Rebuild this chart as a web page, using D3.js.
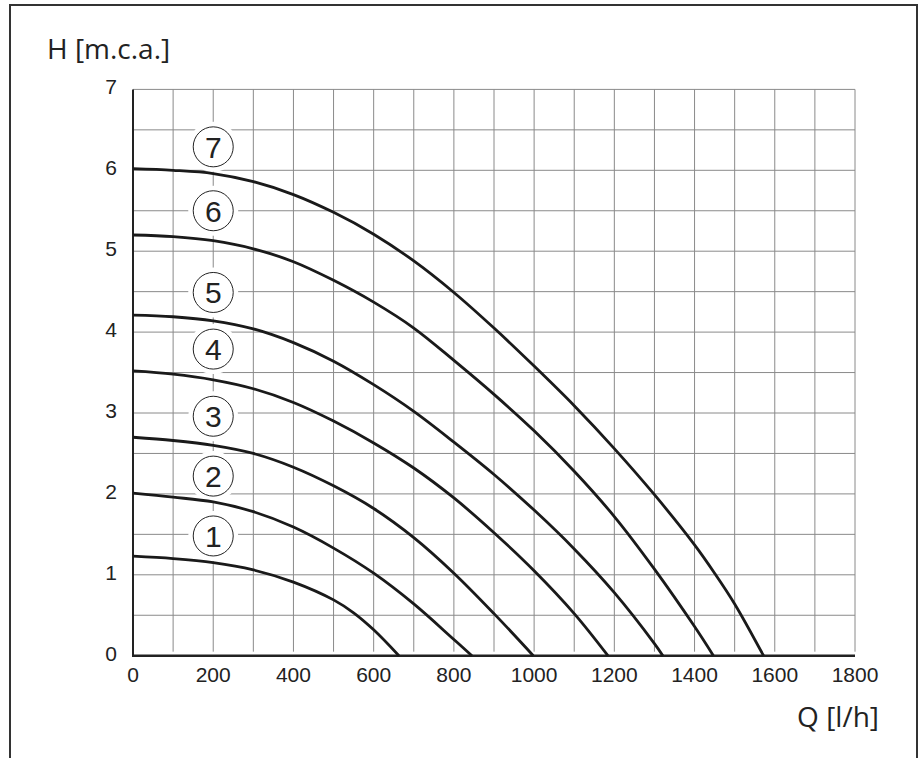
<!DOCTYPE html>
<html>
<head>
<meta charset="utf-8">
<script src="https://cdn.jsdelivr.net/npm/d3@7"></script>
<style>
  body { margin: 0; background: #fff; }
  svg { display: block; }
  .tick-label { font-family: "Liberation Sans", Arial, sans-serif; font-size: 21px; fill: #222; }
  .axis-title { font-family: "Open Sans", sans-serif; font-size: 28px; fill: #222; }
  .speed-label { font-family: "Liberation Sans", Arial, sans-serif; font-size: 30px; fill: #222; }
</style>
</head>
<body>
<svg id="chart"></svg>
<script>
// Pump curves, head H [m.c.a.] against flow Q [l/h], one per speed setting
const speed1 = [[0,1.23],[100,1.2],[200,1.15],[300,1.06],[400,0.91],[500,0.69],[550,0.53],[600,0.32],[663,0]];
const speed2 = [[0,2.01],[100,1.96],[200,1.9],[300,1.78],[400,1.59],[500,1.33],[600,1.02],[700,0.64],[800,0.2],[845,0]];
const speed3 = [[0,2.7],[100,2.66],[200,2.6],[300,2.5],[400,2.33],[500,2.1],[600,1.82],[700,1.46],[800,1.02],[900,0.52],[998,0]];
const speed4 = [[0,3.52],[100,3.48],[200,3.41],[300,3.3],[400,3.13],[500,2.9],[600,2.63],[700,2.32],[800,1.95],[900,1.52],[1000,1.05],[1100,0.52],[1184,0]];
const speed5 = [[0,4.21],[100,4.19],[200,4.14],[300,4.04],[400,3.87],[500,3.64],[600,3.35],[700,3.02],[800,2.64],[900,2.24],[1000,1.8],[1100,1.32],[1200,0.78],[1300,0.15],[1321,0]];
const speed6 = [[0,5.2],[100,5.18],[200,5.13],[300,5.03],[400,4.87],[500,4.64],[600,4.37],[700,4.05],[800,3.65],[900,3.23],[1000,2.78],[1100,2.28],[1200,1.72],[1300,1.07],[1400,0.36],[1447,0]];
const speed7 = [[0,6.02],[100,6.0],[200,5.96],[300,5.86],[400,5.7],[500,5.48],[600,5.21],[700,4.88],[800,4.49],[900,4.05],[1000,3.58],[1100,3.09],[1200,2.56],[1300,1.99],[1400,1.37],[1450,1.02],[1500,0.64],[1572,0]];

const curves = [speed1, speed2, speed3, speed4, speed5, speed6, speed7];

// circled speed numbers, placed at Q = 200
const labelNames = ['1', '2', '3', '4', '5', '6', '7'];
const labelHeads = [1.48, 2.22, 2.96, 3.79, 4.49, 5.5, 6.29];
const labelFlow = 200;

const xTicks = [0, 200, 400, 600, 800, 1000, 1200, 1400, 1600, 1800];
const yTicks = [0, 1, 2, 3, 4, 5, 6, 7];

const width = 921, height = 758;

const svg = d3.select('#chart')
    .attr('width', width)
    .attr('height', height);

// outer frame (open at the bottom)
svg.append('path')
    .attr('d', `M10,${height + 5}V5H917V${height + 5}`)
    .attr('fill', 'none')
    .attr('stroke', '#333')
    .attr('stroke-width', 2);

const x = d3.scaleLinear().domain([0, 1800]).range([133, 855]);
const y = d3.scaleLinear().domain([0, 7]).range([655.7, 89.4]);

// grid: every 100 l/h and every 0.5 m
const grid = svg.append('g').attr('stroke', '#8a8a8a').attr('stroke-width', 1);
grid.selectAll('.vgrid')
    .data(d3.range(100, 1801, 100))
  .join('line')
    .attr('class', 'vgrid')
    .attr('x1', d => x(d)).attr('x2', d => x(d))
    .attr('y1', y(7)).attr('y2', y(0) - 4);
grid.selectAll('.hgrid')
    .data(d3.range(0.5, 7.01, 0.5))
  .join('line')
    .attr('class', 'hgrid')
    .attr('x1', x(0)).attr('x2', x(1800))
    .attr('y1', d => y(d)).attr('y2', d => y(d));

// white halo round the circled numbers hides the grid
const labels = labelNames.map((t, i) => ({text: t, h: labelHeads[i]}));
svg.selectAll('.halo')
    .data(labels)
  .join('circle')
    .attr('class', 'halo')
    .attr('cx', x(labelFlow))
    .attr('cy', d => y(d.h))
    .attr('r', 25)
    .attr('fill', '#fff');

// axes
svg.append('line')
    .attr('x1', x(0)).attr('x2', x(0))
    .attr('y1', y(7)).attr('y2', y(0) + 1)
    .attr('stroke', '#222').attr('stroke-width', 2);
svg.append('line')
    .attr('x1', x(0) - 1).attr('x2', x(1800))
    .attr('y1', y(0)).attr('y2', y(0))
    .attr('stroke', '#222').attr('stroke-width', 2.5);

// tick labels
svg.selectAll('.ylab')
    .data(yTicks)
  .join('text')
    .attr('class', 'tick-label ylab')
    .attr('x', 117)
    .attr('y', d => y(d) + 5)
    .attr('text-anchor', 'end')
    .text(d => d);

svg.selectAll('.xlab')
    .data(xTicks)
  .join('text')
    .attr('class', 'tick-label xlab')
    .attr('x', d => x(d))
    .attr('y', 682)
    .attr('text-anchor', 'middle')
    .text(d => d);

// axis titles
svg.append('text')
    .attr('class', 'axis-title')
    .attr('x', 47)
    .attr('y', 59)
    .text('H [m.c.a.]');

svg.append('text')
    .attr('class', 'axis-title')
    .attr('x', 879)
    .attr('y', 727)
    .attr('text-anchor', 'end')
    .text('Q [l/h]');

// pump curves
const line = d3.line()
    .x(d => x(d[0]))
    .y(d => y(d[1]))
    .curve(d3.curveCatmullRom.alpha(0.5));

svg.selectAll('.curve')
    .data(curves)
  .join('path')
    .attr('class', 'curve')
    .attr('d', line)
    .attr('fill', 'none')
    .attr('stroke', '#1a1a1a')
    .attr('stroke-width', 2.8);

// circled numbers
const marks = svg.selectAll('.speed')
    .data(labels)
  .join('g')
    .attr('class', 'speed')
    .attr('transform', d => `translate(${x(labelFlow)},${y(d.h)})`);

marks.append('circle')
    .attr('r', 20)
    .attr('fill', '#fff')
    .attr('stroke', '#222')
    .attr('stroke-width', 1);

marks.append('text')
    .attr('class', 'speed-label')
    .attr('text-anchor', 'middle')
    .attr('y', 11)
    .text(d => d.text);
</script>
</body>
</html>
